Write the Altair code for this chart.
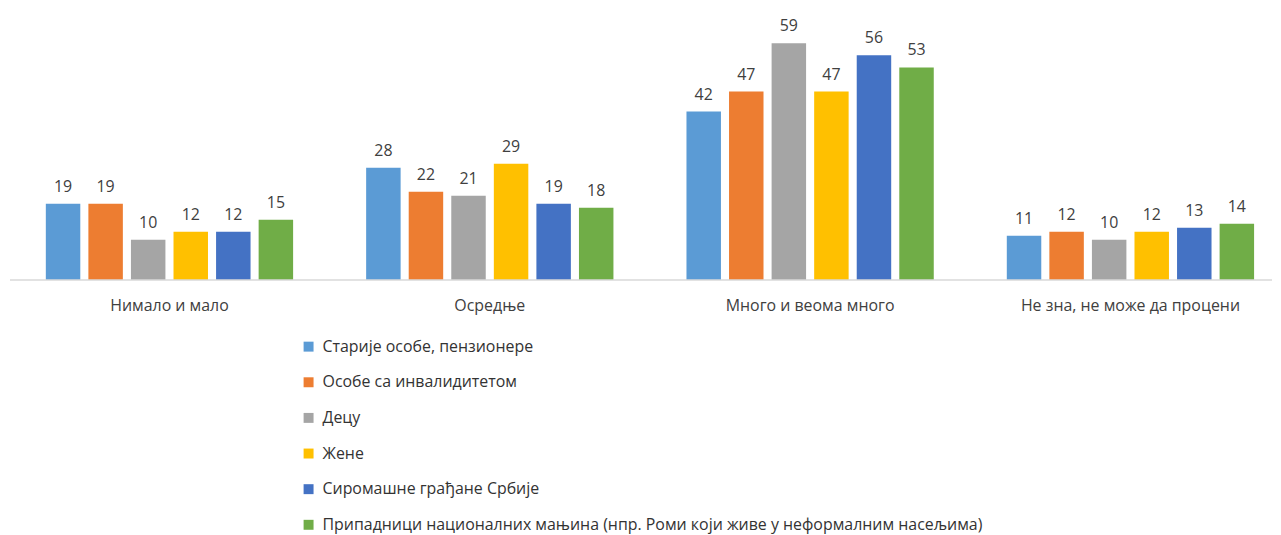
import altair as alt
import pandas as pd

categories = ["Нимало и мало", "Осредње", "Много и веома много", "Не зна, не може да процени"]
series = [
    "Старије особе, пензионере",
    "Особе са инвалидитетом",
    "Децу",
    "Жене",
    "Сиромашне грађане Србије",
    "Припадници националних мањина (нпр. Роми који живе у неформалним насељима)",
]
values = {
    "Старије особе, пензионере": [19, 28, 42, 11],
    "Особе са инвалидитетом": [19, 22, 47, 12],
    "Децу": [10, 21, 59, 10],
    "Жене": [12, 29, 47, 12],
    "Сиромашне грађане Србије": [12, 19, 56, 13],
    "Припадници националних мањина (нпр. Роми који живе у неформалним насељима)": [15, 18, 53, 14],
}
colors = ["#5B9BD5", "#ED7D31", "#A5A5A5", "#FFC000", "#4472C4", "#70AD47"]

rows = []
for s in series:
    for c, v in zip(categories, values[s]):
        rows.append({"cat": c, "series": s, "value": v})
df = pd.DataFrame(rows)

FONT = "Open Sans"
W = 1270
H = 272

x = alt.X("cat:N", sort=categories,
          scale=alt.Scale(range=[38, 1252], paddingInner=0.228, paddingOuter=0),
          axis=alt.Axis(title=None, labelAngle=0, domain=False, ticks=False,
                        labelFontSize=16, labelColor="#404040", labelFont=FONT,
                        labelPadding=18, labelLimit=600))
xo = alt.XOffset("series:N", sort=series,
                 scale=alt.Scale(paddingInner=0.19, paddingOuter=0))
y = alt.Y("value:Q", scale=alt.Scale(domain=[0, 67.5]), axis=None)

bars = alt.Chart(df).mark_bar().encode(
    x=x, xOffset=xo, y=y,
    color=alt.Color("series:N", sort=series,
                    scale=alt.Scale(domain=series, range=colors),
                    legend=alt.Legend(title=None, orient="none", legendX=294, legendY=331,
                                      direction="vertical", symbolType="square",
                                      symbolSize=100, symbolStrokeWidth=0,
                                      labelFontSize=16, labelColor="#333333",
                                      labelFont=FONT, rowPadding=19.8, labelLimit=900,
                                      labelOffset=6)),
)

labels = alt.Chart(df).mark_text(baseline="bottom", dy=-9, fontSize=16,
                                 color="#404040", font=FONT).encode(
    x=x, xOffset=xo, y=y, text=alt.Text("value:Q"))

base = alt.Chart(pd.DataFrame({"v": [0]})).mark_rule(color="#D9D9D9", strokeWidth=1.5).encode(
    y=alt.Y("v:Q", scale=alt.Scale(domain=[0, 67.5]), axis=None),
    x=alt.value(2), x2=alt.value(W))

chart = alt.layer(bars, base, labels).properties(
    width=W, height=H,
    padding={"left": 0, "top": 0, "right": 0, "bottom": 0},
).configure_view(stroke=None)

chart.save("out.html", embed_options={"renderer": "svg", "actions": False})
